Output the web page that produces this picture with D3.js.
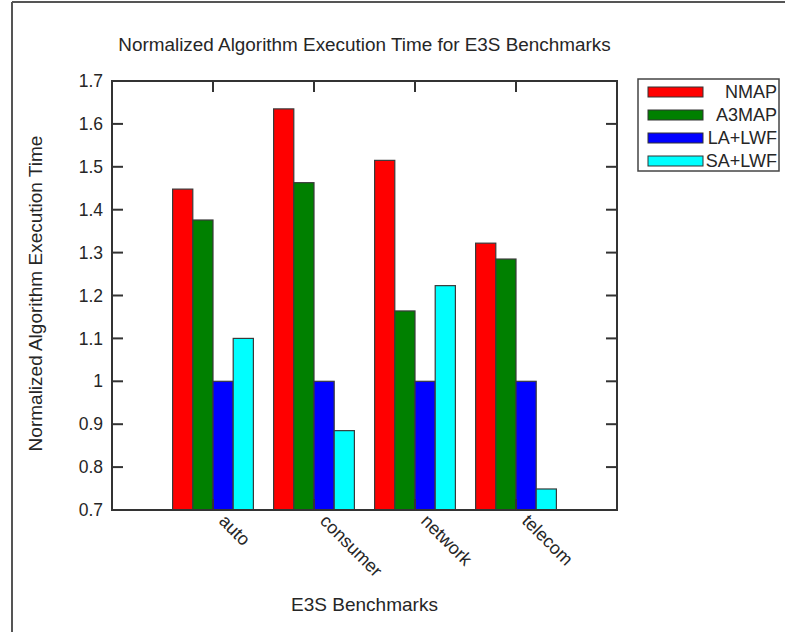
<!DOCTYPE html>
<html>
<head>
<meta charset="utf-8">
<script src="https://cdn.jsdelivr.net/npm/d3@7"></script>
<style>
  body { margin: 0; background: #fff; }
  text { font-family: "Liberation Sans", Arial, sans-serif; fill: #262626; }
</style>
</head>
<body>
<div id="chart"></div>
<script>
const categories = ["auto", "consumer", "network", "telecom"];
const seriesNames = ["NMAP", "A3MAP", "LA+LWF", "SA+LWF"];
const nmap = [1.448, 1.635, 1.515, 1.322];
const a3map = [1.376, 1.463, 1.164, 1.285];
const lalwf = [1.0, 1.0, 1.0, 1.0];
const salwf = [1.100, 0.885, 1.223, 0.749];
const yTicks = [0.7, 0.8, 0.9, 1.0, 1.1, 1.2, 1.3, 1.4, 1.5, 1.6, 1.7];
const colors = ["#ff0000", "#008000", "#0000ff", "#00ffff"];

const width = 785, height = 632;
const values = [nmap, a3map, lalwf, salwf];

const svg = d3.select("#chart").append("svg")
  .attr("width", width)
  .attr("height", height);

// figure frame (top + left only visible)
svg.append("line").attr("x1", 12).attr("x2", 12).attr("y1", 2).attr("y2", height)
  .attr("stroke", "#555").attr("stroke-width", 2);
svg.append("line").attr("x1", 12).attr("x2", width).attr("y1", 2).attr("y2", 2)
  .attr("stroke", "#555").attr("stroke-width", 2);

const axLeft = 112, axRight = 617, axTop = 81, axBottom = 510;

const x = d3.scaleLinear().domain([0, categories.length + 1]).range([axLeft, axRight]);
const y = d3.scaleLinear().domain([0.7, 1.7]).range([axBottom, axTop]);
const sub = d3.scaleBand().domain(seriesNames).range([-0.4, 0.4]);

const bars = [];
categories.forEach((c, i) => {
  seriesNames.forEach((s, j) => {
    bars.push({ cat: i + 1, series: s, value: values[j][i], color: colors[j] });
  });
});

svg.append("g").selectAll("rect")
  .data(bars)
  .enter()
  .append("rect")
  .attr("x", d => x(d.cat + sub(d.series)))
  .attr("width", d => x(sub.bandwidth()) - x(0))
  .attr("y", d => y(d.value))
  .attr("height", d => y(0.7) - y(d.value))
  .attr("fill", d => d.color)
  .attr("stroke", "#3a3a3a")
  .attr("stroke-width", 1.2);

// axes box + inner ticks
const axis = svg.append("g").attr("stroke", "#333").attr("stroke-width", 2);
axis.append("rect").attr("x", axLeft).attr("y", axTop)
  .attr("width", axRight - axLeft).attr("height", axBottom - axTop)
  .attr("fill", "none");

const tickLen = 11;
yTicks.forEach(t => {
  axis.append("line").attr("x1", axLeft).attr("x2", axLeft + tickLen).attr("y1", y(t)).attr("y2", y(t));
  axis.append("line").attr("x1", axRight).attr("x2", axRight - tickLen).attr("y1", y(t)).attr("y2", y(t));
});
categories.forEach((c, i) => {
  axis.append("line").attr("x1", x(i + 1)).attr("x2", x(i + 1)).attr("y1", axTop).attr("y2", axTop + tickLen);
  axis.append("line").attr("x1", x(i + 1)).attr("x2", x(i + 1)).attr("y1", axBottom).attr("y2", axBottom - tickLen);
});

// y tick labels
svg.append("g").selectAll("text")
  .data(yTicks)
  .enter()
  .append("text")
  .attr("x", axLeft - 9)
  .attr("y", d => y(d))
  .attr("dy", "0.35em")
  .attr("text-anchor", "end")
  .style("font-size", "17.5px")
  .text(d => String(+d.toFixed(1)));

// x tick labels, rotated
svg.append("g").selectAll("text")
  .data(categories)
  .enter()
  .append("text")
  .attr("transform", (d, i) => `translate(${x(i + 1) + 14},${axBottom + 3}) rotate(45)`)
  .attr("dominant-baseline", "hanging")
  .style("font-size", "18px")
  .text(d => d);

// title and axis labels
svg.append("text")
  .attr("x", (axLeft + axRight) / 2)
  .attr("y", 51)
  .attr("text-anchor", "middle")
  .style("font-size", "18.9px")
  .text("Normalized Algorithm Execution Time for E3S Benchmarks");

svg.append("text")
  .attr("x", (axLeft + axRight) / 2)
  .attr("y", 611)
  .attr("text-anchor", "middle")
  .style("font-size", "19px")
  .text("E3S Benchmarks");

svg.append("text")
  .attr("transform", `translate(42,${(axTop + axBottom) / 2 - 2}) rotate(-90)`)
  .attr("text-anchor", "middle")
  .style("font-size", "19px")
  .text("Normalized Algorithm Execution Time");

// legend
const legend = svg.append("g");
legend.append("rect")
  .attr("x", 638).attr("y", 79).attr("width", 141).attr("height", 92)
  .attr("fill", "#fff").attr("stroke", "#444").attr("stroke-width", 1.5);

const rows = legend.selectAll("g.item")
  .data(seriesNames)
  .enter()
  .append("g")
  .attr("class", "item")
  .attr("transform", (d, i) => `translate(0,${92 + i * 23})`);

rows.append("rect")
  .attr("x", 648).attr("y", -5).attr("width", 55).attr("height", 10)
  .attr("fill", (d, i) => colors[i])
  .attr("stroke", "#333").attr("stroke-width", 1);

rows.append("text")
  .attr("x", 777).attr("y", 0).attr("dy", "0.35em")
  .attr("text-anchor", "end")
  .style("font-size", "18px")
  .text(d => d);
</script>
</body>
</html>
